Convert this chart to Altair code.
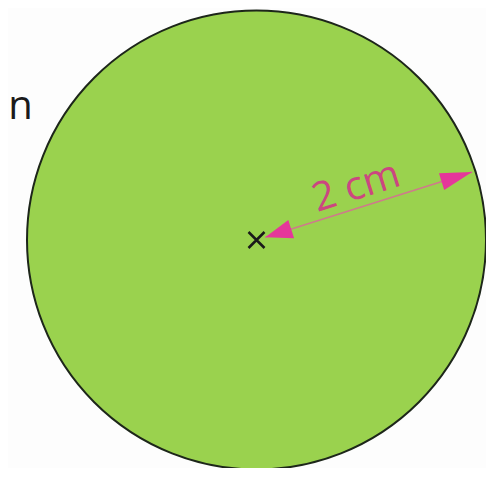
import math
import altair as alt
import pandas as pd

# ---- diagram values (in cm) ----
radius_cm = [2.0]
center_cm = [0.0, 0.0]
arrow_angle_deg = [17.5]
arrow_start_cm = [0.08]
arrow_end_cm = [1.97]
label_text = ["2 cm"]
label_pos_cm = [0.87, 0.46]
side_text = ["n"]
side_pos_cm = [-2.163, 1.16]

# ---- layout / style ----
W, H = 478, 460
PX = 114.75                    # pixels per cm
CX, CY = 248.5, 232.0          # centre in chart pixels
x_dom = [-CX / PX, (W - CX) / PX]
y_dom = [(CY - H) / PX, CY / PX]

GREEN = "#9ad24e"
PINK = "#e5379a"
TEXT_PINK = "#cc4680"
LINE_PINK = "#cf7a8c"

xs = alt.Scale(domain=x_dom, nice=False, zero=False)
ys = alt.Scale(domain=y_dom, nice=False, zero=False)

ang = math.radians(arrow_angle_deg[0])
cx0, cy0 = center_cm
x_start = cx0 + arrow_start_cm[0] * math.cos(ang)
y_start = cy0 + arrow_start_cm[0] * math.sin(ang)
x_end = cx0 + arrow_end_cm[0] * math.cos(ang)
y_end = cy0 + arrow_end_cm[0] * math.sin(ang)

circle_df = pd.DataFrame({"x": [cx0], "y": [cy0], "r": radius_cm})
arrow_df = pd.DataFrame({"x": [x_start], "y": [y_start], "x2": [x_end], "y2": [y_end]})
head_end_df = pd.DataFrame({"x": [x_end], "y": [y_end]})
head_start_df = pd.DataFrame({"x": [x_start], "y": [y_start]})
label_df = pd.DataFrame({"x": [label_pos_cm[0]], "y": [label_pos_cm[1]], "t": label_text})
side_df = pd.DataFrame({"x": [side_pos_cm[0]], "y": [side_pos_cm[1]], "t": side_text})

diam_px = 2 * radius_cm[0] * PX
rot = 360 - arrow_angle_deg[0]

X = lambda f="x": alt.X(f"{f}:Q", scale=xs, axis=None)
Y = lambda f="y": alt.Y(f"{f}:Q", scale=ys, axis=None)

circle = alt.Chart(circle_df).mark_point(
    shape="circle", filled=True, fill=GREEN, stroke="#1d261a", strokeWidth=2,
    size=diam_px ** 2, opacity=1, fillOpacity=1,
).encode(x=X(), y=Y())

line = alt.Chart(arrow_df).mark_rule(color=LINE_PINK, strokeWidth=1.5).encode(
    x=X(), y=Y(), x2="x2:Q", y2="y2:Q"
)

head_end = alt.Chart(head_end_df).mark_point(
    shape="M 0 0 L -2 -0.55 L -2 0.55 Z", filled=True, fill=PINK, strokeWidth=0,
    size=1024, angle=rot, opacity=1,
).encode(x=X(), y=Y())

head_start = alt.Chart(head_start_df).mark_point(
    shape="M 0 0 L 1.7 -0.6 L 1.7 0.6 Z", filled=True, fill=PINK, strokeWidth=0,
    size=1024, angle=rot, opacity=1,
).encode(x=X(), y=Y())

cross = alt.Chart(circle_df).mark_point(
    shape="M -1 -1 L 1 1 M -1 1 L 1 -1", filled=False, stroke="#1a1a1a",
    strokeWidth=2.5, size=256, opacity=1,
).encode(x=X(), y=Y())

label = alt.Chart(label_df).mark_text(
    font="Open Sans", fontSize=40, color=TEXT_PINK, angle=rot,
    align="center", baseline="middle",
).encode(x=X(), y=Y(), text="t:N")

side = alt.Chart(side_df).mark_text(
    font="Open Sans", fontSize=40, color="#1a1a1a", align="left", baseline="middle",
).encode(x=X(), y=Y(), text="t:N")

chart = alt.layer(circle, line, head_end, head_start, cross, label, side).properties(
    width=W, height=H, padding=0, background="#fdfdfd",
    autosize=alt.AutoSizeParams(type="none"),
).configure_view(stroke=None)

chart.save("out.html", embed_options={"renderer": "svg", "actions": False})
